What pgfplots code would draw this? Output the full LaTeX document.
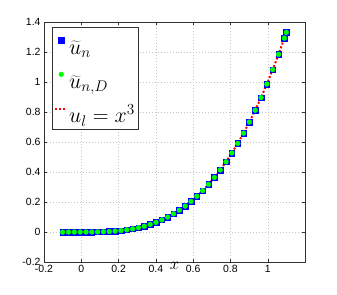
\RequirePackage{fix-cm}
\documentclass[border=0pt]{standalone}
\usepackage[no-math]{fontspec}
\setmainfont{Liberation Sans}
\usepackage{pgfplots}
\usepackage{pgfplotstable}
\pgfplotsset{compat=1.18}
\pgfplotsset{
  marklegend/.style={legend image code/.code={\draw[mark repeat=2,mark phase=2,##1] plot coordinates {(0cm,0.14cm) (0.21cm,0.14cm) (0.42cm,0.14cm)};}},
  linelegend/.style={legend image code/.code={\draw[##1] (0cm,0.12cm) -- (0.42cm,0.12cm);}},
}
\newcommand{\lstrut}{\rule[-3pt]{0pt}{25pt}}
\pgfplotstableread{
x y
-0.1 -0.001
-0.0687 -0.000324
-0.0374 -0.0000523
-0.0061 -0.0000002
0.0252 0.000016
0.0565 0.000180
0.0878 0.000677
0.1191 0.001689
0.1504 0.003402
0.1817 0.005999
0.2130 0.009664
0.2443 0.014581
0.2756 0.020933
0.3069 0.028906
0.3382 0.038684
0.3695 0.050448
0.4008 0.064385
0.4321 0.080678
0.4634 0.099511
0.4947 0.121067
0.5260 0.145532
0.5573 0.173088
0.5886 0.203921
0.6199 0.238213
0.6512 0.276149
0.6825 0.317913
0.7138 0.363690
0.7451 0.413661
0.7764 0.468013
0.8077 0.526929
0.8390 0.590593
0.8703 0.659188
0.9016 0.732898
0.9329 0.811911
0.9642 0.896396
0.9955 0.986553
1.0268 1.082577
1.0581 1.184608
1.0894 1.292875
1.1 1.331
}\datatable
\begin{document}
\begin{tikzpicture}
\useasboundingbox (0,0) rectangle (337bp,295bp);
\begin{axis}[
  at={(44bp,33bp)}, anchor=south west,
  scale only axis, width=261bp, height=240bp,
  xmin=-0.2, xmax=1.2, ymin=-0.2, ymax=1.4,
  xtick={-0.2,0,0.2,0.4,0.6,0.8,1},
  ytick={-0.2,0,0.2,0.4,0.6,0.8,1,1.2,1.4},
  tick align=inside, tick pos=both,
  major tick length=3bp,
  clip=false,
  axis line style={black!80},
  tick style={black!80},
  grid=major, grid style={dash pattern=on 1pt off 2pt, black!22},
  tick label style={font=\fontsize{10.5}{12}\selectfont},
  /pgf/number format/assume math mode=true,
  xlabel={\fontsize{17}{19}\selectfont$x$},
  xlabel style={at={(axis description cs:0.5,0)}, anchor=north, inner sep=1pt, yshift=1pt},
  legend style={at={(0.031,0.979)}, anchor=north west, font=\fontsize{22}{26}\selectfont, draw=black!80, fill=white,
    cells={anchor=west}, nodes={inner sep=1pt}, row sep=9pt, inner xsep=2pt, inner ysep=4pt},
]
\addplot[only marks, mark=square*, mark size=2.8pt, color=blue, marklegend]
  table[x=x,y=y] {\datatable};
\addlegendentry{\lstrut$\widetilde{u}_n$}
\addplot[only marks, mark=*, mark size=2.4pt, color=green, marklegend]
  table[x=x,y=y] {\datatable};
\addlegendentry{\lstrut$\widetilde{u}_{n,D}$}
\addplot[no marks, color=red, line width=2pt, dash pattern=on 2pt off 2pt, linelegend]
  table[x=x,y=y] {\datatable};
\addlegendentry{\rule[-6pt]{0pt}{28pt}$u_l = x^3$\hspace{12pt}}
\end{axis}
\end{tikzpicture}
\end{document}
